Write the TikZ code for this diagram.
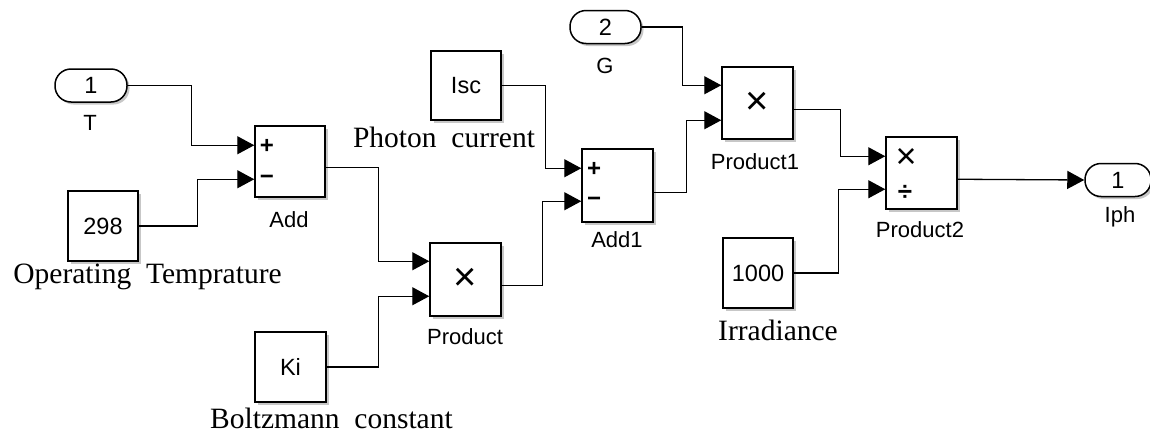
\documentclass[tikz,border=0pt]{standalone}
\usepackage{fontspec}
\setmainfont{Liberation Serif}
\setsansfont{Liberation Sans}
\usetikzlibrary{arrows.meta,shadows,calc}
\tikzset{
  shad/.style={drop shadow={shadow xshift=2.5pt,shadow yshift=-2.5pt,fill=black,opacity=0.22}},
  blk/.style={draw, line width=1.5pt, fill=white, minimum width=70pt, minimum height=70pt,
    inner sep=0pt, shad, font=\sffamily\fontsize{23.5}{26}\selectfont},
  port/.style={draw, line width=1.5pt, fill=white, rounded corners=16pt, minimum width=72pt,
    minimum height=33pt, inner sep=0pt, shad, font=\sffamily\fontsize{23.5}{26}\selectfont},
  sig/.style={line width=1.3pt, -{Triangle[length=17pt,width=18pt]}},
  lbl/.style={font=\sffamily\fontsize{22}{24}\selectfont, inner sep=0pt},
  captxt/.style={font=\rmfamily\fontsize{29.5}{33}\selectfont, inner sep=0pt},
  sgn/.style={font=\sffamily\bfseries\fontsize{24}{26}\selectfont, inner sep=0pt},
  mult/.style={font=\sffamily\fontsize{40}{42}\selectfont, inner sep=0pt}
}
\begin{document}
\begin{tikzpicture}[x=1pt,y=-1pt]
\useasboundingbox (0,0) rectangle (1150,434);
% blocks
\node[port] (inT) at (91,85.5) {1};
\node[lbl] (lT) at (90,123) {T};
\node[blk, minimum height=71pt] (add) at (290,161.5) {};
\node[sgn] (addp) at (267,146) {+};
\node[sgn] (addm) at (267,180) {−};
\node[lbl] (lAdd) at (289,220) {Add};
\node[blk] (c298) at (103,226) {298};
\node[captxt] (lOT) at (147.5,277) {Operating\ \ Temprature};
\node[blk, minimum width=71pt, minimum height=73pt] (prod) at (465.5,279.5) {};
\node[mult] (prodx) at (465.5,279.5) {×};
\node[lbl] (lProd) at (465,337) {Product};
\node[blk, minimum width=71pt] (ki) at (290.5,367) {Ki};
\node[captxt] (lBC) at (331.5,418) {Boltzmann\ \ constant};
\node[blk, minimum height=69pt] (isc) at (466,85.5) {Isc};
\node[captxt] (lPC) at (444,137) {Photon\ \ current};
\node[blk, minimum width=71pt, minimum height=73pt] (add1) at (617.5,185.5) {};
\node[sgn] (add1p) at (594,169) {+};
\node[sgn] (add1m) at (594,202) {−};
\node[lbl] (lAdd1) at (617,240) {Add1};
\node[port, minimum width=71pt] (inG) at (605.5,27) {2};
\node[lbl] (lG) at (605,66) {G};
\node[blk, minimum width=71pt, minimum height=72pt] (prod1) at (757.5,103) {};
\node[mult] (prod1x) at (757.5,103) {×};
\node[lbl] (lP1) at (755,162) {Product1};
\node[blk, minimum width=71pt, minimum height=72pt] (prod2) at (921.5,173) {};
\node[mult, font=\sffamily\fontsize{36}{38}\selectfont] (prod2x) at (906,158) {×};
\node[sgn, font=\sffamily\bfseries\fontsize{26}{28}\selectfont] (prod2d) at (905,193) {÷};
\node[lbl] (lP2) at (920,230) {Product2};
\node[blk] (c1000) at (758,273) {1000};
\node[captxt] (lIrr) at (778,330) {Irradiance};
\node[port, minimum width=66pt] (outI) at (1118,180) {1};
\node[lbl] (lI) at (1120,217) {Iph};
% ports
\coordinate (add-i1) at ($(add.north west)+(0,20)$);
\coordinate (add-i2) at ($(add.north west)+(0,54)$);
\coordinate (add-o)  at ($(add.north east)+(0,42)$);
\coordinate (prod-i1) at ($(prod.north west)+(0,19)$);
\coordinate (prod-i2) at ($(prod.north west)+(0,54)$);
\coordinate (prod-o)  at ($(prod.north east)+(0,43)$);
\coordinate (add1-i1) at ($(add1.north west)+(0,20)$);
\coordinate (add1-i2) at ($(add1.north west)+(0,53)$);
\coordinate (add1-o)  at ($(add1.north east)+(0,44)$);
\coordinate (prod1-i1) at ($(prod1.north west)+(0,19)$);
\coordinate (prod1-i2) at ($(prod1.north west)+(0,54)$);
\coordinate (prod1-o)  at ($(prod1.north east)+(0,43)$);
\coordinate (prod2-i1) at ($(prod2.north west)+(0,20)$);
\coordinate (prod2-i2) at ($(prod2.north west)+(0,53)$);
\coordinate (prod2-o)  at ($(prod2.north east)+(0,43)$);
% signals
\draw[sig] (inT.east) -- ++(64,0) |- (add-i1);
\draw[sig] (c298.east) -- ++(59,0) |- (add-i2);
\draw[sig] (add-o) -- ++(53,0) |- (prod-i1);
\draw[sig] (ki.east) -- ++(51.5,0) |- (prod-i2);
\draw[sig] (isc.east) -- ++(44,0) |- (add1-i1);
\draw[sig] (prod-o) -- ++(41,0) |- (add1-i2);
\draw[sig] (inG.east) -- ++(41,0) |- (prod1-i1);
\draw[sig] (add1-o) -- ++(33,0) |- (prod1-i2);
\draw[sig] (prod1-o) -- ++(47,0) |- (prod2-i1);
\draw[sig] (c1000.east) -- ++(45,0) |- (prod2-i2);
\draw[sig] (prod2-o) -- (outI.west);
\end{tikzpicture}
\end{document}
